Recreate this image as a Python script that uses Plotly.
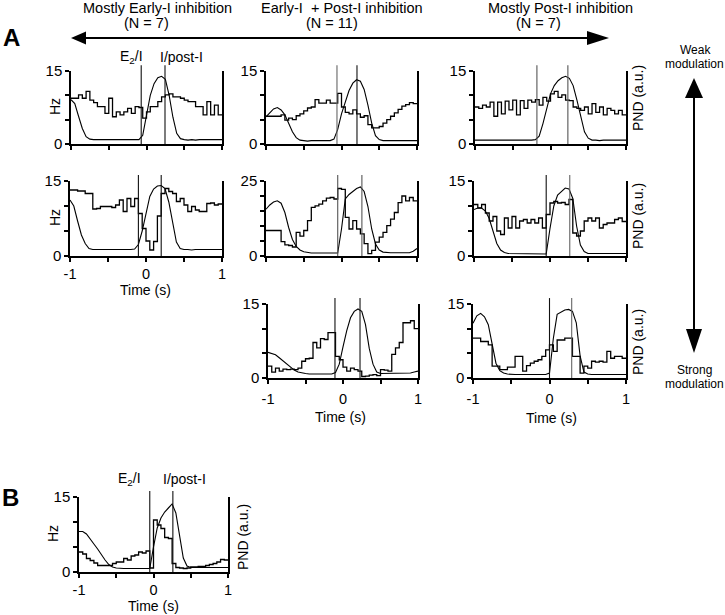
import numpy as np
import plotly.graph_objects as go

W, H = 725, 615
FONT = "Liberation Sans, Arial, sans-serif"

# ---------------- data ----------------
bin_edges_s = np.round(np.linspace(-1, 1, 41), 3)   # 40 bins of 50 ms
pnd_time_s = np.round(np.linspace(-1, 1, 41), 3)

hist_A1 = [9.4, 9.4, 10.1, 9.4, 10.8, 9.0, 8.5, 7.7, 7.7, 6.3, 9.4, 5.6, 6.6, 6.0, 6.6, 7.3, 6.3, 7.7, 7.5, 5.3,
           6.6, 7.7, 7.7, 8.7, 9.7, 10.1, 10.3, 9.7, 9.7, 9.4, 9.0, 8.7, 8.7, 7.7, 7.7, 6.0, 8.7, 6.0, 8.0, 6.0]
hist_A2 = [5.7, 5.7, 5.7, 5.7, 6.0, 4.9, 5.3, 5.0, 5.8, 6.2, 6.8, 7.4, 7.6, 9.1, 8.4, 8.4, 9.0, 8.4, 8.4, 10.4,
           7.6, 6.5, 6.2, 7.0, 6.2, 5.5, 5.8, 4.0, 3.3, 3.3, 3.6, 4.3, 5.0, 5.7, 6.4, 7.1, 7.8, 8.1, 8.5, 8.3]
hist_A3 = [7.6, 7.3, 8.0, 7.6, 8.6, 5.7, 8.6, 6.2, 8.8, 7.0, 9.0, 6.0, 8.9, 7.3, 9.0, 8.6, 9.1, 8.0, 9.6, 8.8,
           10.3, 10.8, 9.6, 10.1, 9.0, 8.9, 7.6, 7.3, 6.9, 7.6, 6.2, 8.3, 6.5, 7.6, 6.0, 7.3, 6.9, 6.2, 6.9, 6.0]
hist_A4 = [13.2, 13.2, 13.0, 13.0, 12.5, 12.5, 9.4, 9.5, 9.9, 9.9, 9.9, 9.7, 10.2, 11.2, 8.9, 11.5, 9.9, 11.5, 8.5, 5.5,
           3.0, 1.2, 2.9, 8.0, 12.5, 13.5, 12.9, 12.5, 10.9, 11.5, 10.2, 8.9, 9.9, 9.2, 8.9, 8.9, 10.5, 10.6, 10.2, 10.4]
hist_A5 = [8.5, 8.5, 8.5, 8.5, 4.8, 3.7, 3.5, 3.0, 7.9, 6.6, 8.5, 11.8, 16.2, 16.7, 17.3, 18.4, 19.3, 19.5, 19.0, 22.5,
           22.2, 12.9, 9.0, 11.8, 9.0, 7.4, 4.1, 0.8, 1.9, 4.6, 6.3, 7.9, 10.1, 12.3, 14.5, 17.8, 20.0, 18.4, 19.5, 18.4]
hist_A6 = [10.3, 9.6, 10.3, 8.6, 7.0, 7.9, 5.0, 4.3, 7.6, 5.6, 7.9, 5.6, 7.0, 7.3, 6.6, 7.3, 6.6, 7.6, 5.6, 8.3,
           10.6, 10.9, 10.6, 10.7, 10.3, 11.3, 4.6, 4.0, 5.0, 7.0, 7.6, 7.0, 7.6, 5.6, 6.3, 6.6, 6.6, 7.3, 7.6, 6.9]
hist_A7 = [2.4, 1.2, 2.0, 1.4, 1.8, 1.7, 1.8, 1.7, 2.0, 3.4, 3.9, 4.0, 7.2, 6.1, 8.0, 7.8, 9.2, 9.2, 4.4, 3.7,
           2.2, 1.4, 2.0, 1.7, 1.4, 0.3, 0.4, 0.6, 0.7, 0.5, 1.7, 1.6, 1.4, 4.8, 6.1, 7.2, 11.2, 11.2, 11.6, 10.0]
hist_A8 = [8.1, 8.1, 7.4, 7.4, 6.7, 2.4, 2.4, 1.7, 1.7, 2.2, 2.2, 4.4, 4.4, 1.4, 2.5, 3.0, 3.4, 3.7, 4.4, 5.7,
           6.7, 5.4, 7.7, 7.7, 8.1, 8.1, 4.4, 4.4, 1.0, 2.4, 2.0, 3.4, 3.2, 3.4, 3.2, 5.4, 4.0, 4.4, 4.4, 4.0]
hist_B = [4.0, 3.6, 2.7, 2.3, 1.8, 1.3, 1.3, 1.3, 1.3, 1.7, 2.0, 2.0, 2.7, 2.4, 3.2, 3.4, 4.0, 3.8, 4.2, 0.8,
          10.4, 9.4, 8.7, 6.9, 6.7, 1.7, 0.9, 0.8, 0.7, 0.8, 1.0, 1.0, 1.1, 1.1, 1.3, 1.5, 1.7, 2.0, 2.5, 2.4]

pnd_A1 = [9.1, 8.3, 5.7, 3.2, 1.5, 1.0, 0.9, 0.9, 0.8, 0.9, 0.8, 0.9, 0.9, 0.8, 0.9, 0.9, 0.8, 0.9, 0.9, 1.8,
          5.8, 10.0, 12.4, 13.6, 13.9, 13.3, 10.0, 5.5, 2.2, 1.1, 0.9, 0.8, 0.9, 0.8, 0.9, 0.9, 0.8, 0.9, 0.8, 0.9, 0.9]
pnd_A2 = [5.6, 6.4, 7.2, 7.5, 7.0, 6.0, 4.4, 2.5, 1.3, 0.8, 0.7, 0.6, 0.7, 0.7, 0.6, 0.7, 0.7, 0.7, 1.0, 3.0,
          6.2, 8.8, 11.0, 12.5, 13.2, 12.9, 11.2, 8.0, 4.3, 1.7, 0.9, 0.7, 0.7, 0.6, 0.7, 0.7, 0.7, 0.6, 0.7, 0.7, 0.7]
pnd_A3 = [0.8, 0.8, 0.7, 0.8, 0.8, 0.8, 0.7, 0.8, 0.8, 0.8, 0.8, 0.7, 0.8, 0.8, 0.8, 0.8, 0.9, 1.6, 4.2, 7.3,
          10.3, 12.0, 13.0, 13.6, 13.9, 13.5, 12.0, 9.0, 5.5, 2.5, 1.2, 0.8, 0.8, 0.7, 0.8, 0.8, 0.7, 0.8, 0.8, 0.7, 0.8]
pnd_A4 = [11.2, 10.0, 7.0, 4.2, 2.5, 1.5, 1.3, 1.3, 1.2, 1.3, 1.3, 1.2, 1.3, 1.3, 1.3, 1.2, 1.3, 1.4, 2.3, 5.0,
          8.8, 11.9, 13.4, 14.0, 14.1, 13.5, 10.8, 6.8, 2.8, 1.5, 1.3, 1.3, 1.2, 1.3, 1.3, 1.2, 1.3, 1.3, 1.2, 1.3, 1.3]
pnd_A5 = [15.6, 17.0, 18.0, 18.4, 17.6, 14.5, 9.5, 5.5, 3.2, 2.0, 1.4, 1.1, 1.0, 1.0, 1.0, 1.0, 1.0, 1.0, 1.0, 1.0,
          9.0, 19.0, 20.5, 21.5, 22.5, 23.0, 21.5, 16.5, 9.0, 4.0, 2.0, 1.3, 1.1, 1.1, 1.1, 1.1, 1.1, 1.1, 1.1, 1.6, 2.5]
pnd_A6 = [9.3, 9.6, 9.6, 9.0, 7.5, 4.8, 2.5, 1.2, 0.7, 0.5, 0.5, 0.5, 0.5, 0.5, 0.5, 0.5, 0.5, 0.5, 0.5, 0.4,
          5.5, 10.0, 12.2, 13.0, 13.6, 13.4, 11.5, 6.0, 2.2, 0.9, 0.5, 0.5, 0.5, 0.5, 0.5, 0.5, 0.5, 0.5, 0.5, 0.5, 0.5]
pnd_A7 = [5.2, 5.0, 4.7, 4.1, 3.5, 2.8, 2.2, 1.6, 1.2, 1.0, 0.9, 0.8, 0.8, 0.8, 0.8, 0.8, 0.8, 0.8, 1.1, 2.8,
          6.3, 9.6, 12.2, 13.5, 14.0, 13.5, 10.8, 6.0, 2.8, 1.2, 0.9, 0.9, 0.9, 0.9, 0.9, 0.9, 0.9, 0.9, 1.0, 1.2, 1.4]
pnd_A8 = [11.1, 12.6, 13.1, 12.4, 10.8, 7.0, 3.0, 1.5, 1.0, 0.8, 0.7, 0.7, 0.7, 0.7, 0.7, 0.7, 0.7, 0.7, 0.7, 0.7,
          1.0, 8.0, 12.9, 13.4, 13.8, 13.9, 13.5, 11.2, 4.5, 1.2, 0.8, 0.7, 0.7, 0.7, 0.7, 0.7, 0.7, 0.7, 0.7, 0.7, 0.7]
pnd_B = [8.1, 8.1, 7.6, 6.7, 5.6, 4.6, 3.4, 2.4, 1.5, 1.0, 0.8, 0.7, 0.7, 0.7, 0.7, 0.7, 0.7, 0.7, 0.7, 0.7,
         5.0, 8.8, 10.8, 12.0, 12.8, 13.6, 11.8, 7.5, 2.8, 1.2, 0.9, 0.9, 0.9, 0.9, 0.9, 0.9, 0.9, 0.9, 0.9, 0.9, 0.9]

events_A1 = [-0.07, 0.245]
events_A2 = [-0.06, 0.205]
events_A3 = [-0.18, 0.23]
events_A4 = [-0.10, 0.20]
events_A5 = [-0.05, 0.27]
events_A6 = [-0.05, 0.26]
events_A7 = [-0.107, 0.227]
events_A8 = [0.0, 0.29]
events_B = [-0.05, 0.26]

ymax_hz = [15, 15, 15, 15, 25, 15, 15, 15, 15]
x_tick_vals = [-1, -0.5, 0, 0.5, 1]
x_tick_text = ["-1", "", "0", "", "1"]

hists = [hist_A1, hist_A2, hist_A3, hist_A4, hist_A5, hist_A6, hist_A7, hist_A8, hist_B]
pnds = [pnd_A1, pnd_A2, pnd_A3, pnd_A4, pnd_A5, pnd_A6, pnd_A7, pnd_A8, pnd_B]
events = [events_A1, events_A2, events_A3, events_A4, events_A5, events_A6, events_A7, events_A8, events_B]

# ---------------- layout geometry (pixels) ----------------
boxes = [  # x0, x1, ytop, ybottom
    (71, 222, 71, 144), (266, 417, 71, 144), (475, 626, 71, 144),
    (70, 222, 181, 256), (266, 417, 181, 256), (474, 626, 181, 256),
    (268, 418, 304, 378), (473, 626, 304, 378),
    (79, 228, 497, 572),
]
show_x_labels = [False, False, False, True, False, False, True, True, True]
label_standoff = [0, 0, 0, 0, 0, 0, 3, 3, 0]
event_colors = [("#111", "#111"), ("#666", "#111"), ("#555", "#555"), ("#111", "#111"),
                ("#555", "#555"), ("#111", "#666"), ("#111", "#111"), ("#111", "#666"), ("#111", "#111")]


def px(x):
    return x / W


def py(y):
    return 1 - y / H


def ax_id(letter, n):
    return letter if n == 1 else f"{letter}{n}"


fig = go.Figure()
layout = {}
shapes = []

for k in range(9):
    n = k + 1
    xa, ya, yb = ax_id("x", n), ax_id("y", 2 * n - 1), ax_id("y", 2 * n)
    xkey = "xaxis" if n == 1 else f"xaxis{n}"
    yakey = "yaxis" if n == 1 else f"yaxis{2*n-1}"
    ybkey = f"yaxis{2*n}"
    x0, x1, yt, ybm = boxes[k]
    ym = ymax_hz[k]
    yticks = list(range(0, ym + 1, 5))
    ytext = ["0"] + [" "] * (len(yticks) - 2) + [str(ym)]

    hy = list(hists[k]) + [hists[k][-1]]
    fig.add_trace(go.Scatter(x=bin_edges_s, y=hy, mode="lines", line=dict(shape="hv", color="black", width=1.3),
                             xaxis=xa, yaxis=ya, showlegend=False, hoverinfo="skip"))
    fig.add_trace(go.Scatter(x=pnd_time_s, y=pnds[k], mode="lines", line=dict(color="black", width=1.1),
                             xaxis=xa, yaxis=yb, showlegend=False, hoverinfo="skip"))

    layout[xkey] = dict(domain=[px(x0), px(x1)], anchor=ya, range=[-1, 1], tickvals=x_tick_vals,
                        ticktext=x_tick_text if show_x_labels[k] else [" "] * 5, automargin=False,
                        ticks="outside", ticklen=4, tickwidth=1.5, tickcolor="black",
                        showline=True, linewidth=1.5, linecolor="black", showgrid=False, zeroline=False,
                        tickfont=dict(family=FONT, size=14.5, color="black"),
                        ticklabelstandoff=label_standoff[k])
    layout[yakey] = dict(domain=[py(ybm), py(yt)], anchor=xa, range=[0, ym], tickvals=yticks, automargin=False,
                         ticktext=ytext, ticks="outside", ticklen=4, tickwidth=1.5, tickcolor="black",
                         showline=True, linewidth=1.5, linecolor="black", showgrid=False, zeroline=False,
                         tickfont=dict(family=FONT, size=15, color="black"))
    layout[ybkey] = dict(overlaying=ya, side="right", anchor=xa, range=[0, ym], tickvals=[ym], automargin=False,
                         ticks="inside", ticklen=4, tickwidth=1.5, tickcolor="black", showticklabels=False,
                         showline=True, linewidth=1.5, linecolor="black", showgrid=False, zeroline=False)
    for t, c in zip(events[k], event_colors[k]):
        shapes.append(dict(type="line", xref=xa, yref=f"{ya} domain", x0=t, x1=t, y0=0, y1=1.08,
                           line=dict(color=c, width=1.1)))

# arrows
shapes.append(dict(type="line", xref="paper", yref="paper", x0=px(82), x1=px(590), y0=py(38), y1=py(38),
                   line=dict(color="black", width=2)))
shapes.append(dict(type="path", xref="paper", yref="paper", fillcolor="black", line=dict(width=0),
                   path=f"M {px(71)},{py(38)} L {px(86)},{py(31.5)} L {px(86)},{py(44.5)} Z"))
shapes.append(dict(type="path", xref="paper", yref="paper", fillcolor="black", line=dict(width=0),
                   path=f"M {px(609)},{py(38)} L {px(587)},{py(31)} L {px(587)},{py(45)} Z"))
shapes.append(dict(type="line", xref="paper", yref="paper", x0=px(694), x1=px(694), y0=py(96), y1=py(331),
                   line=dict(color="black", width=2)))
shapes.append(dict(type="path", xref="paper", yref="paper", fillcolor="black", line=dict(width=0),
                   path=f"M {px(694)},{py(78)} L {px(685)},{py(98)} L {px(703)},{py(98)} Z"))
shapes.append(dict(type="path", xref="paper", yref="paper", fillcolor="black", line=dict(width=0),
                   path=f"M {px(694)},{py(353)} L {px(686)},{py(329)} L {px(702)},{py(329)} Z"))

annotations = []


def text(s, x, y, size=14, angle=0, bold=False):
    annotations.append(dict(text=f"<b>{s}</b>" if bold else s, x=px(x), y=py(y), xref="paper", yref="paper",
                            showarrow=False, xanchor="center", yanchor="middle", textangle=angle,
                            font=dict(family=FONT, size=size, color="black")))


text("Mostly Early-I inhibition", 157, 8, size=14.5)
text("(N = 7)", 146, 23, size=14.5)
text("Early-I  + Post-I inhibition", 342, 8, size=14.5)
text("(N = 11)", 332, 23, size=14.5)
text("Mostly Post-I inhibition", 560, 8, size=14.5)
text("(N = 7)", 538, 23, size=14.5)
text("A", 11, 38, size=24, bold=True)
text("B", 10, 497, size=24, bold=True)
text("Weak", 695, 50, size=12)
text("modulation", 694, 64, size=12)
text("Strong", 694, 370, size=12)
text("modulation", 694, 384, size=12)
text("E<sub>2</sub>/I", 131, 57)
text("I/post-I", 181, 57)
text("E<sub>2</sub>/I", 129, 479)
text("I/post-I", 184, 479)
text("Hz", 55, 107, angle=-90)
text("Hz", 55, 218, angle=-90)
text("Hz", 53, 534, angle=-90)
text("PND (a.u.)", 638, 98, angle=-90)
text("PND (a.u.)", 638, 216, angle=-90)
text("PND (a.u.)", 638, 342, angle=-90)
text("PND (a.u.)", 243, 537, angle=-90)
text("Time (s)", 145, 290)
text("Time (s)", 340, 417)
text("Time (s)", 551, 418)
text("Time (s)", 153, 606)

fig.update_layout(width=W, height=H, margin=dict(l=0, r=0, t=0, b=0, autoexpand=False), paper_bgcolor="white",
                  plot_bgcolor="rgba(0,0,0,0)", showlegend=False, shapes=shapes, annotations=annotations,
                  **layout)
fig.write_html("out.html", config={"displayModeBar": False},
               post_script="document.body.style.margin='0';document.body.style.overflow='hidden';")
